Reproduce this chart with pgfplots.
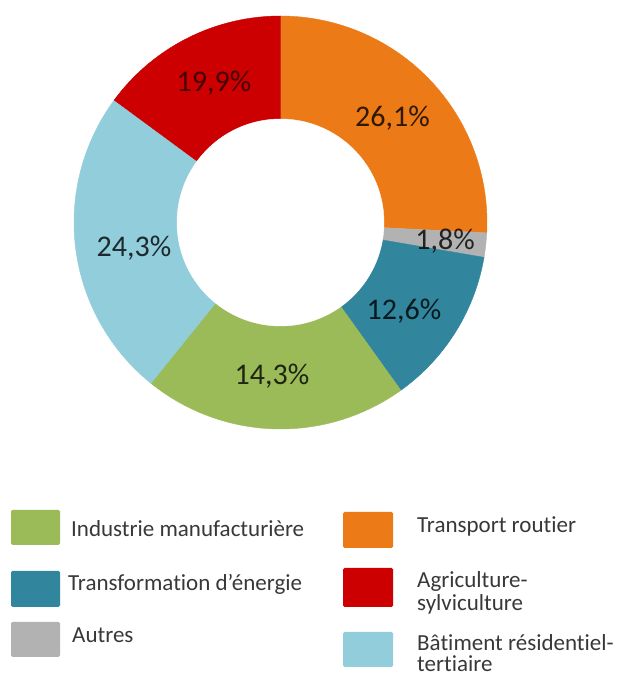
\documentclass[border=0pt]{standalone}
\usepackage{fontspec}
\setmainfont{Carlito}[Ligatures={NoCommon}]
\usepackage{pgfplots}
\pgfplotsset{compat=1.18}
\definecolor{cOrange}{HTML}{EC7A17}
\definecolor{cGray}{HTML}{B2B2B2}
\definecolor{cTeal}{HTML}{31859C}
\definecolor{cGreen}{HTML}{9BBB59}
\definecolor{cLBlue}{HTML}{92CDDC}
\definecolor{cRed}{HTML}{CC0000}
\tikzset{
  lbl/.style={font=\fontsize{30}{36}\selectfont,anchor=base,inner sep=0pt,text=black,text opacity=0.8},
  leg/.style={font=\fontsize{23}{24}\selectfont,anchor=base west,inner sep=0pt,text=black!78}}
% ring geometry (axis units = pt)
\def\cx{280.5}\def\cy{454.5}\def\Ro{206.5}\def\Ri{103.5}
% share of the ring taken by each slice, clockwise from 12 o'clock (as drawn)
\def\vA{25.8}% Transport routier
\def\vB{1.9}% Autres
\def\vC{12.4}% Transformation d'energie
\def\vD{20.7}% Industrie manufacturiere
\def\vE{24.3}% Batiment residentiel-tertiaire
\def\vF{14.9}% Agriculture-sylviculture
\pgfmathsetmacro\aA{90}
\pgfmathsetmacro\aB{\aA-3.6*\vA}
\pgfmathsetmacro\aC{\aB-3.6*\vB}
\pgfmathsetmacro\aD{\aC-3.6*\vC}
\pgfmathsetmacro\aE{\aD-3.6*\vD}
\pgfmathsetmacro\aF{\aE-3.6*\vE}
\pgfmathsetmacro\aG{\aF-3.6*\vF}
\begin{document}
\begin{tikzpicture}
\begin{axis}[x=1pt,y=1pt,xmin=0,xmax=617,ymin=0,ymax=677,hide axis,clip=false,scale only axis]
\coordinate (BL) at (axis cs:0,0);
\coordinate (TR) at (axis cs:617,677);
\addplot[fill=cOrange,draw=cOrange,line width=0.4pt,domain=\aB:\aA,samples=90,variable=\t] ({\cx+\Ro*cos(\t)},{\cy+\Ro*sin(\t)}) -- (axis cs:\cx,\cy) -- cycle;
\addplot[fill=cGray,draw=cGray,line width=0.4pt,domain=\aC:\aB,samples=10,variable=\t] ({\cx+\Ro*cos(\t)},{\cy+\Ro*sin(\t)}) -- (axis cs:\cx,\cy) -- cycle;
\addplot[fill=cTeal,draw=cTeal,line width=0.4pt,domain=\aD:\aC,samples=50,variable=\t] ({\cx+\Ro*cos(\t)},{\cy+\Ro*sin(\t)}) -- (axis cs:\cx,\cy) -- cycle;
\addplot[fill=cGreen,draw=cGreen,line width=0.4pt,domain=\aE:\aD,samples=80,variable=\t] ({\cx+\Ro*cos(\t)},{\cy+\Ro*sin(\t)}) -- (axis cs:\cx,\cy) -- cycle;
\addplot[fill=cLBlue,draw=cLBlue,line width=0.4pt,domain=\aF:\aE,samples=90,variable=\t] ({\cx+\Ro*cos(\t)},{\cy+\Ro*sin(\t)}) -- (axis cs:\cx,\cy) -- cycle;
\addplot[fill=cRed,draw=cRed,line width=0.4pt,domain=\aG:\aF,samples=60,variable=\t] ({\cx+\Ro*cos(\t)},{\cy+\Ro*sin(\t)}) -- (axis cs:\cx,\cy) -- cycle;
\addplot[fill=white,draw=white,line width=0.4pt,domain=0:360,samples=160,variable=\t] ({\cx+\Ri*cos(\t)},{\cy+\Ri*sin(\t)}) -- cycle;
% slice labels
\node[lbl] at (axis cs:392.5,550.4) {26,1\%};
\node[lbl] at (axis cs:445,427.4) {1,8\%};
\node[lbl] at (axis cs:404,357.4) {12,6\%};
\node[lbl] at (axis cs:272,292.4) {14,3\%};
\node[lbl] at (axis cs:134,420.4) {24,3\%};
\node[lbl,text opacity=0.65] at (axis cs:214,585.4) {19,9\%};
% legend
\fill[cGreen,rounded corners=1.5pt] (axis cs:11,132) rectangle (axis cs:60,167);
\fill[cTeal,rounded corners=1.5pt] (axis cs:11,70) rectangle (axis cs:60,106);
\fill[cGray,rounded corners=1.5pt] (axis cs:11,20) rectangle (axis cs:60,55);
\fill[cOrange,rounded corners=1.5pt] (axis cs:343,129) rectangle (axis cs:393,165);
\fill[cRed,rounded corners=1.5pt] (axis cs:343,70) rectangle (axis cs:393,109);
\fill[cLBlue,rounded corners=1.5pt] (axis cs:343,10) rectangle (axis cs:393,45);
\node[leg] at (axis cs:71,140) {Industrie manufacturière};
\node[leg] at (axis cs:68,86) {Transformation d’énergie};
\node[leg] at (axis cs:72,34) {Autres};
\node[leg] at (axis cs:417,144) {Transport routier};
\node[leg] at (axis cs:417,89) {Agriculture-};
\node[leg] at (axis cs:417,66) {sylviculture};
\node[leg] at (axis cs:417,26) {Bâtiment résidentiel-};
\node[leg] at (axis cs:417,5) {tertiaire};
\end{axis}
\pgfresetboundingbox
\path[use as bounding box] (BL) rectangle (TR);
\end{tikzpicture}
\end{document}
